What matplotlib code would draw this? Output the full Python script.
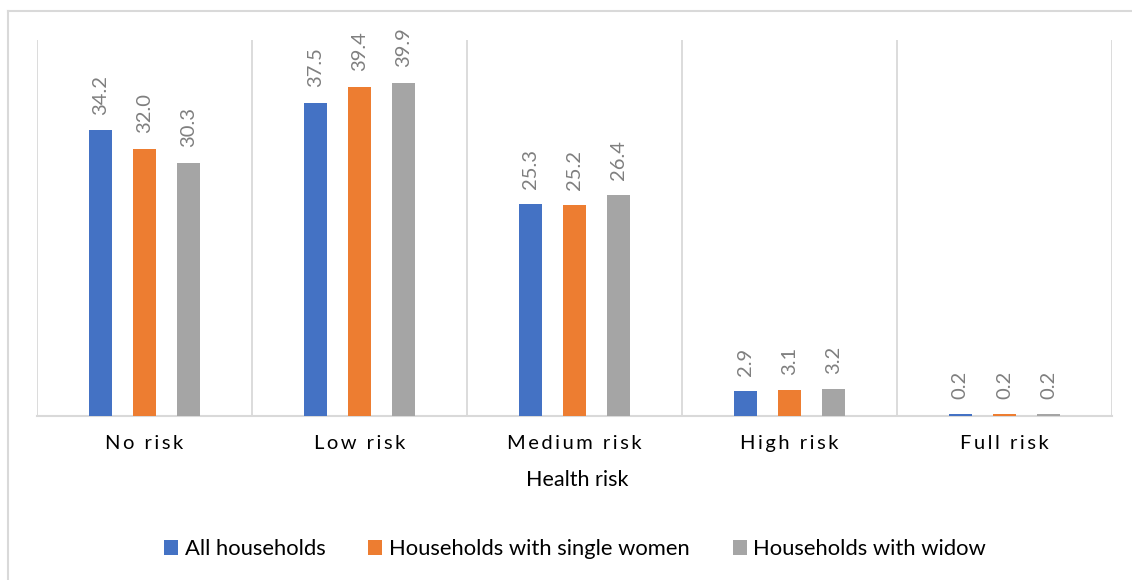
import matplotlib
matplotlib.use("Agg")
import matplotlib.pyplot as plt
import numpy as np
from matplotlib.patches import Patch
from matplotlib.lines import Line2D

# Health-risk categories and percentage of households in each
categories = ["No risk", "Low risk", "Medium risk", "High risk", "Full risk"]
series_names = ["All households", "Households with single women", "Households with widow"]
all_households = [34.2, 37.5, 25.3, 2.9, 0.2]
single_women = [32.0, 39.4, 25.2, 3.1, 0.2]
widow = [30.3, 39.9, 26.4, 3.2, 0.2]
x_title = "Health risk"

colors = ["#4472C4", "#ED7D31", "#A5A5A5"]
grid_col = "#D9D9D9"
label_col = "#7F7F7F"

plt.rcParams["font.family"] = ["Lato", "DejaVu Sans"]

W, H = 1132, 580
fig = plt.figure(figsize=(W / 100, H / 100), dpi=100)
fig.patch.set_facecolor("white")

# chart area border (left and top edges)
fig.add_artist(Line2D([7.5 / W, 7.5 / W], [0, 1 - 10.5 / H], transform=fig.transFigure,
                      color=grid_col, lw=1.5))
fig.add_artist(Line2D([7.5 / W, 1], [1 - 10.5 / H, 1 - 10.5 / H], transform=fig.transFigure,
                      color=grid_col, lw=1.5))

ax = fig.add_axes([37 / W, (H - 415.7) / H, 1075 / W, 375.7 / H])

x = np.arange(len(categories))
width = 0.108
offset = 0.206
series = [all_households, single_women, widow]

for i, (vals, name, c) in enumerate(zip(series, series_names, colors)):
    pos = x + (i - 1) * offset
    ax.bar(pos, vals, width=width, color=c, label=name, zorder=3)
    for xp, v in zip(pos, vals):
        ax.annotate(f"{v:.1f}", xy=(xp, v), xytext=(0, 11), textcoords="offset points",
                    rotation=90, ha="center", va="bottom", fontsize=14.5, color=label_col)

ax.set_xlim(-0.5, len(categories) - 0.5)
ax.set_ylim(0, 45)

# vertical separators between categories
for b in np.arange(-0.5, len(categories), 1.0):
    ax.axvline(b, color=grid_col, lw=1.3, zorder=1)

for s in ["top", "right", "left"]:
    ax.spines[s].set_visible(False)
ax.spines["bottom"].set_color(grid_col)
ax.spines["bottom"].set_linewidth(1.5)
ax.set_yticks([])

# letter-spaced category labels
spaced = ["\u2009".join(list(c)) for c in categories]
ax.set_xticks(x, spaced)
ax.tick_params(axis="x", length=0, pad=14, labelsize=14.5, labelcolor="#000000")

fig.text(577 / W, (H - 486) / H, x_title, ha="center", va="baseline", fontsize=15.5, color="#000000")

handles = [Patch(facecolor=c, edgecolor="none") for c in colors]
fig.legend(handles, series_names, loc="center", bbox_to_anchor=(575 / W, (H - 549) / H),
           ncol=3, frameon=False, fontsize=15.8, handlelength=0.65, handleheight=0.65,
           handletextpad=0.3, columnspacing=1.95)

fig.savefig("out.png", dpi=100, facecolor="white")
